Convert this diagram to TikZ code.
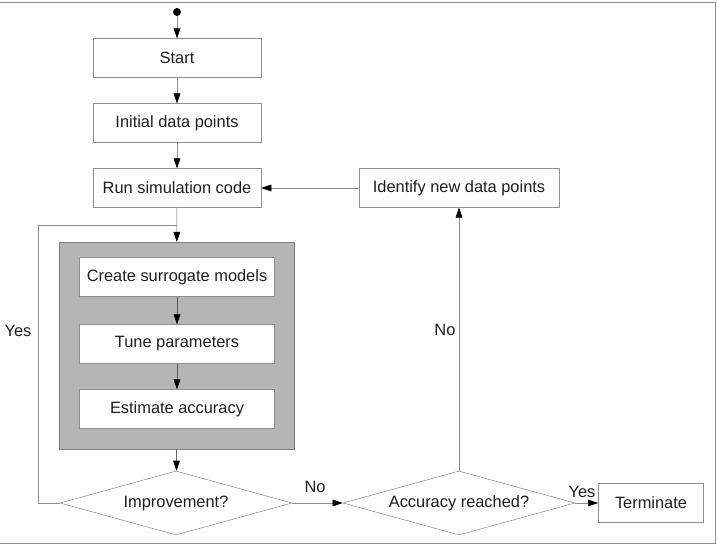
\documentclass[tikz,border=0pt]{standalone}
\usepackage{fontspec}
\setmainfont{Liberation Sans}
\usetikzlibrary{shapes.geometric, arrows.meta, positioning}
\definecolor{lineg}{HTML}{8F8F8F}
\definecolor{boxg}{HTML}{B5B5B5}
\definecolor{txtg}{HTML}{1E1E1E}
\tikzset{
  stepbox/.style = {rectangle, draw=lineg, fill=white, minimum width=126pt,
                    minimum height=29pt, align=center, text=txtg, inner sep=2pt,
                    font=\fontsize{12.3}{14}\selectfont},
  dec/.style     = {diamond, aspect=3.6, draw=lineg, fill=white, minimum width=174pt,
                    minimum height=48pt, inner sep=0pt, text=txtg,
                    font=\fontsize{12.3}{14}\selectfont},
  grp/.style     = {rectangle, draw=black!50, fill=boxg, inner sep=0pt},
  fl/.style      = {draw=lineg, -{Triangle[length=7.5pt, width=5pt, black]}},
  ln/.style      = {draw=lineg},
  lbl/.style     = {font=\fontsize{12.3}{14}\selectfont, text=txtg, inner sep=1pt},
}

\begin{document}
\begin{tikzpicture}[x=0.75pt, y=-0.75pt]
  \useasboundingbox (0,0) rectangle (717,548);
  % frame
  \draw[lineg] (0,2) -- (715,2) -- (715,543) -- (0,543);

  % ---- main column ---------------------------------------------------------
  \node[circle, fill=black, minimum size=6pt, inner sep=0pt] (init) at (177,12) {};
  \node[stepbox] (start) at (177,58)  {Start};
  \node[stepbox] (data)  at (177,123) {Initial data points};
  \node[stepbox] (run)   at (177,188) {Run simulation code};
  \node[stepbox, minimum width=150pt] (ident) at (459,188) {Identify new data points};

  % ---- surrogate block -----------------------------------------------------
  \node[grp, minimum width=176pt, minimum height=155pt] (block) at (176.5,345.5) {};
  \node[stepbox, minimum width=146pt] (create) at (177,277) {Create surrogate models};
  \node[stepbox, minimum width=146pt] (tune)   at (177,344) {Tune parameters};
  \node[stepbox, minimum width=146pt] (est)    at (177,409) {Estimate accuracy};

  % ---- decisions -----------------------------------------------------------
  \node[dec] (imp) at (176,503) {Improvement?};
  \node[dec] (acc) at (459,503) {Accuracy reached?};
  \node[stepbox, minimum width=79pt] (term) at (651,503) {Terminate};
  \coordinate (join) at (177,225);

  % ---- connectors ----------------------------------------------------------
  \draw[fl] (init) -- (start);
  \draw[fl] (start) -- (data);
  \draw[fl] (data) -- (run);
  \draw[fl, draw=black!60] (run) -- (block);
  \draw[fl, draw=black!65] (create) -- (tune);
  \draw[fl, draw=black!65] (tune) -- (est);
  \draw[fl, draw=black!60] (block) -- (block.south |- imp.north);
  \draw[ln] (imp.west) -- ++(-21,0) |- (join);
  \draw[fl] (imp) -- (acc);
  \draw[fl] (acc) -- (term);
  \draw[fl] (acc) -- (ident);
  \draw[fl] (ident) -- (run);

  \node[lbl] at (18,331)  {Yes};
  \node[lbl] at (315,487) {No};
  \node[lbl, anchor=east] at (457,330) {No};
  \node[lbl] at (582,492) {Yes};
\end{tikzpicture}
\end{document}
